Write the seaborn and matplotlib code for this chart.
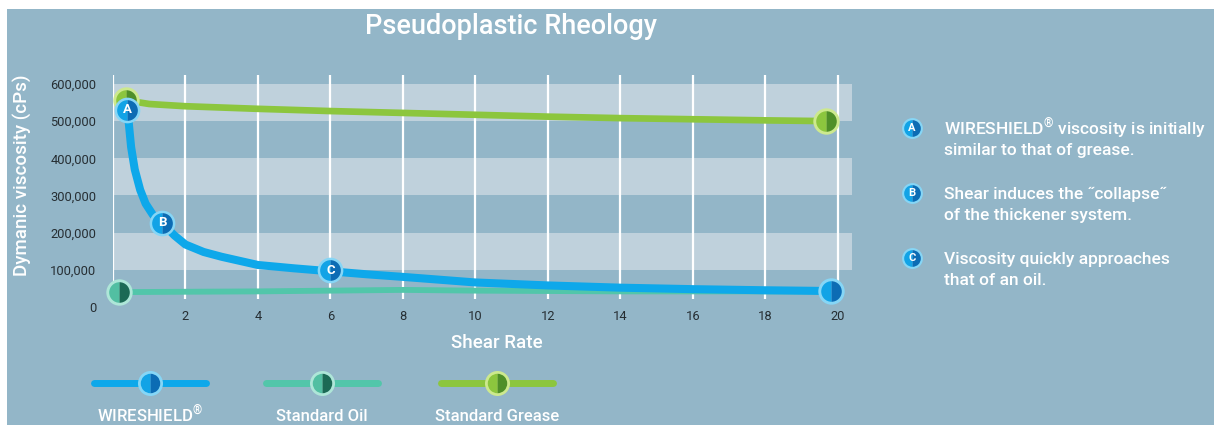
import numpy as np
import pandas as pd
import matplotlib.pyplot as plt
import seaborn as sns
from matplotlib.lines import Line2D
from matplotlib.patches import Rectangle

# values
shear_wire = [0.4, 0.5, 0.6, 0.75, 0.9, 1.1, 1.35, 1.7, 2.0, 2.5, 3.0, 4.0, 5.0, 6.0, 7.0,
              8.0, 10.0, 12.0, 14.0, 16.0, 18.0, 19.8]
visc_wire = [530000, 430000, 370000, 315000, 278000, 248000, 226000, 192000, 168000, 148000,
             135000, 113000, 104000, 96000, 88000, 81000, 66000, 58000, 52000, 48000, 45000, 43000]

shear_oil = [0.17, 2, 4, 6, 8, 10, 12, 14, 16, 18, 19.8]
visc_oil = [40000, 41000, 42000, 44000, 46000, 44000, 43000, 42000, 42000, 42000, 42000]

shear_grease = [0.35, 1, 2, 4, 6, 8, 10, 12, 14, 16, 18, 19.67]
visc_grease = [556000, 546000, 540000, 533000, 527000, 522000, 517000, 512000, 508000, 505000,
               502000, 500000]

callout_letters = ["A", "B", "C"]
callout_x = [0.4, 1.35, 6.0]
callout_y = [530000, 226000, 99000]
callout_text = [["WIRESHIELD$^{\\circledR}$ viscosity is initially", "similar to that of grease."],
                ["Shear induces the \u02ddcollapse\u02dd", "of the thickener system."],
                ["Viscosity quickly approaches", "that of an oil."]]

y_ticks = [0, 100000, 200000, 300000, 400000, 500000, 600000]
x_ticks = [2, 4, 6, 8, 10, 12, 14, 16, 18, 20]

series_names = ["WIRESHIELD$^{\\circledR}$", "Standard Oil", "Standard Grease"]
line_colors = ["#0ea8ea", "#52c6aa", "#8cc63e"]
half_light = ["#12a3e6", "#52bfa2", "#8cc63e"]
half_dark = ["#0c6cb4", "#1c6a55", "#4f8f28"]
ring_colors = ["#86d6f6", "#aee6d8", "#cde98e"]

bg = "#93b6c8"
band = "#bfd1dc"

sns.set_style("white")
plt.rcParams["font.family"] = ["Roboto", "DejaVu Sans"]
plt.rcParams["mathtext.fontset"] = "custom"
plt.rcParams["mathtext.rm"] = "Roboto:medium"

W, H = 1214, 425
fig = plt.figure(figsize=(W / 100, H / 100), dpi=100)
fig.patch.set_facecolor("white")
fig.add_artist(Rectangle((7 / W, 0), 1 - 7 / W, 1 - 9 / H, transform=fig.transFigure,
                         facecolor=bg, edgecolor="none", zorder=-10))

ax = fig.add_axes([113 / W, 1 - 307 / H, (852 - 113) / W, (307 - 75) / H])
ax.set_facecolor("none")
ax.set_xlim(0, 20.39)
ax.set_ylim(0, 624000)

for lo in [100000, 300000, 500000]:
    ax.axhspan(lo, lo + 100000, color=band, lw=0, zorder=0)
ax.vlines([0] + x_ticks, 22000, 624000, color="white", lw=1.6, zorder=1)

df_wire = pd.DataFrame({"x": shear_wire, "y": visc_wire})
df_oil = pd.DataFrame({"x": shear_oil, "y": visc_oil})
df_grease = pd.DataFrame({"x": shear_grease, "y": visc_grease})


def half_marker(target, x, y, i, size=19, ring=4.2, z=5, **kw):
    # outer ring, then a two-tone disc without edge on top
    target.plot([x], [y], marker="o", linestyle="none", markersize=size,
                markerfacecolor=ring_colors[i], markeredgewidth=0, zorder=z, clip_on=False, **kw)
    target.plot([x], [y], marker="o", linestyle="none", markersize=size - ring,
                fillstyle="left", markerfacecolor=half_light[i],
                markerfacecoloralt=half_dark[i], markeredgewidth=0, zorder=z,
                clip_on=False, **kw)


sns.lineplot(data=df_grease, x="x", y="y", ax=ax, color=line_colors[2], lw=4.8,
             solid_capstyle="round", zorder=3)
sns.lineplot(data=df_oil, x="x", y="y", ax=ax, color=line_colors[1], lw=4.2,
             solid_capstyle="round", zorder=3)
sns.lineplot(data=df_wire, x="x", y="y", ax=ax, color=line_colors[0], lw=5.8,
             solid_capstyle="round", zorder=4)

half_marker(ax, shear_grease[0], visc_grease[0], 2)
half_marker(ax, shear_grease[-1], visc_grease[-1], 2)
half_marker(ax, shear_oil[0], visc_oil[0], 1)
half_marker(ax, shear_wire[-1], visc_wire[-1], 0, z=6)
for letter, cx, cy in zip(callout_letters, callout_x, callout_y):
    half_marker(ax, cx, cy, 0, size=18.5, ring=3.6, z=7)
    ax.text(cx, cy, letter, color="white", fontsize=9.5, fontweight="bold",
            ha="center", va="center", zorder=8)

ax.set_xticks(x_ticks)
ax.set_yticks(y_ticks)
ax.set_yticklabels([f"{v:,}" for v in y_ticks])
ax.tick_params(length=0, labelsize=9.3, labelcolor="#262e33")
ax.tick_params(axis="x", pad=2)
ax.tick_params(axis="y", pad=12)
for s in ax.spines.values():
    s.set_visible(False)
ax.set_xlabel("")
ax.set_ylabel("")

fig.text(511 / W, 1 - 27 / H, "Pseudoplastic Rheology", color="white", fontsize=19.5,
         fontweight="medium", ha="center", va="center")
fig.text(497 / W, 1 - 343 / H, "Shear Rate", color="white", fontsize=13.5,
         fontweight="medium", ha="center", va="center")
fig.text(22 / W, 1 - 175 / H, "Dymanic viscosity (cPs)", color="white", fontsize=13.5,
         fontweight="medium", ha="center", va="center", rotation=90)

# legend below the chart
leg_centers = [150, 322, 497]
for i, name in enumerate(series_names):
    cx = leg_centers[i]
    yy = 1 - 383 / H
    fig.add_artist(Line2D([(cx - 56) / W, (cx + 56) / W], [yy, yy], transform=fig.transFigure,
                          color=line_colors[i], lw=5, solid_capstyle="round"))
    for sz, kw in [(18, dict(markerfacecolor=ring_colors[i])),
                   (14, dict(fillstyle="left", markerfacecolor=half_light[i],
                             markerfacecoloralt=half_dark[i]))]:
        fig.add_artist(Line2D([cx / W], [yy], transform=fig.transFigure, marker="o",
                              markersize=sz, markeredgewidth=0, linestyle="none", **kw))
    fig.text(cx / W, 1 - 421 / H, name, color="white", fontsize=12, fontweight="medium",
             ha="center", va="baseline")

# callout notes on the right
note_rows = [128, 193, 258]
for letter, lines, ry in zip(callout_letters, callout_text, note_rows):
    my = 1 - ry / H
    for sz, kw in [(15, dict(markerfacecolor=ring_colors[0])),
                   (12, dict(fillstyle="left", markerfacecolor=half_light[0],
                             markerfacecoloralt=half_dark[0]))]:
        fig.add_artist(Line2D([912 / W], [my], transform=fig.transFigure, marker="o",
                              markersize=sz, markeredgewidth=0, linestyle="none", **kw))
    fig.text(912 / W, my, letter, color="white", fontsize=8, fontweight="bold",
             ha="center", va="center")
    for k, line in enumerate(lines):
        fig.text(944 / W, 1 - (ry + 6 + 21 * k) / H, line, color="white", fontsize=12.5,
                 fontweight="medium", ha="left", va="baseline")

plt.savefig("out.png", dpi=100, facecolor=fig.get_facecolor())
